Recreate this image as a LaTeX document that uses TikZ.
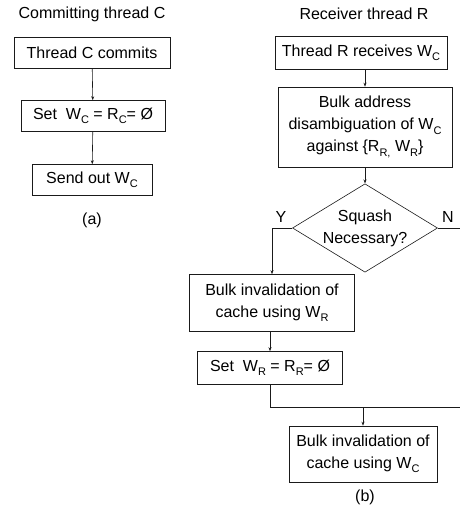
\documentclass[tikz,border=0pt]{standalone}
\usepackage{fontspec}
\setmainfont{Liberation Sans}
\usepackage{tikz}
\usetikzlibrary{arrows.meta, shapes.geometric}
\definecolor{LineColour}{HTML}{1A1A1A}
\newcommand{\lowsub}[1]{\raisebox{-0.5ex}{\fontsize{11}{11}\selectfont #1}}

\begin{document}
\begin{tikzpicture}[x = 1pt, y = -1pt, line width = 0.6pt, draw = LineColour,
        font = \fontsize{16}{22}\selectfont,
        stepbox/.style = {draw = LineColour, rectangle, align = center, inner sep = 0pt},
        choice/.style = {draw = LineColour, diamond, align = center, inner sep = 0pt, aspect = 1.64},
        flow/.style = {-{Stealth[length = 4pt, width = 3pt]}}]

    \useasboundingbox (0, 0) rectangle (459, 508);

    % (a) committing thread
    \node (titleC) at (92, 14) {Committing thread C};
    \node[stepbox, minimum width = 156pt, minimum height = 31pt] (cmt) at (92, 53) {Thread C commits};
    \node[stepbox, minimum width = 144pt, minimum height = 31pt] (clrC) at (93, 116) {Set\ \ W\lowsub{C} = R\lowsub{C}= Ø};
    \node[stepbox, minimum width = 120pt, minimum height = 31pt] (snd) at (92, 180) {Send out W\lowsub{C}};
    \node (capA) at (92, 220) {(a)};

    \draw[flow] (cmt) -- (clrC);
    \draw[flow] (clrC) -- (snd);

    % (b) receiver thread
    \node (titleR) at (364, 14) {Receiver thread R};
    \node[stepbox, minimum width = 172pt, minimum height = 33pt] (rcv) at (361, 53) {Thread R receives W\lowsub{C}};
    \node[stepbox, minimum width = 174pt, minimum height = 80pt] (bad) at (365, 127)
        {Bulk address\\disambiguation of W\lowsub{C}\\against \{R\lowsub{R,} W\lowsub{R}\}};
    \node[choice, minimum width = 144pt, minimum height = 88pt] (sq) at (365, 228) {Squash\\Necessary?};
    \node (yes) at (281, 217) {Y};
    \node (no) at (448, 217) {N};
    \node[stepbox, minimum width = 165pt, minimum height = 57pt] (invR) at (272, 303) {Bulk invalidation of\\cache using W\lowsub{R}};
    \node[stepbox, minimum width = 145pt, minimum height = 33pt] (clrR) at (270, 368) {Set\ \ W\lowsub{R} = R\lowsub{R}= Ø};
    \node[stepbox, minimum width = 148pt, minimum height = 56pt] (invC) at (363, 454) {Bulk invalidation of\\cache using W\lowsub{C}};
    \node (capB) at (365, 497) {(b)};

    \coordinate (edge) at (470, 407);

    \draw[flow] (rcv.south -| bad) -- (bad);
    \draw[flow] (bad) -- (sq);
    \draw[flow] (sq.west) -| (invR.north);
    \draw[flow] (invR.south -| clrR) -- (clrR);
    \draw (sq.east) -| (edge);
    \draw (clrR.south) |- (edge);
    \draw[flow] (invC.north |- edge) -- (invC.north);
\end{tikzpicture}
\end{document}
